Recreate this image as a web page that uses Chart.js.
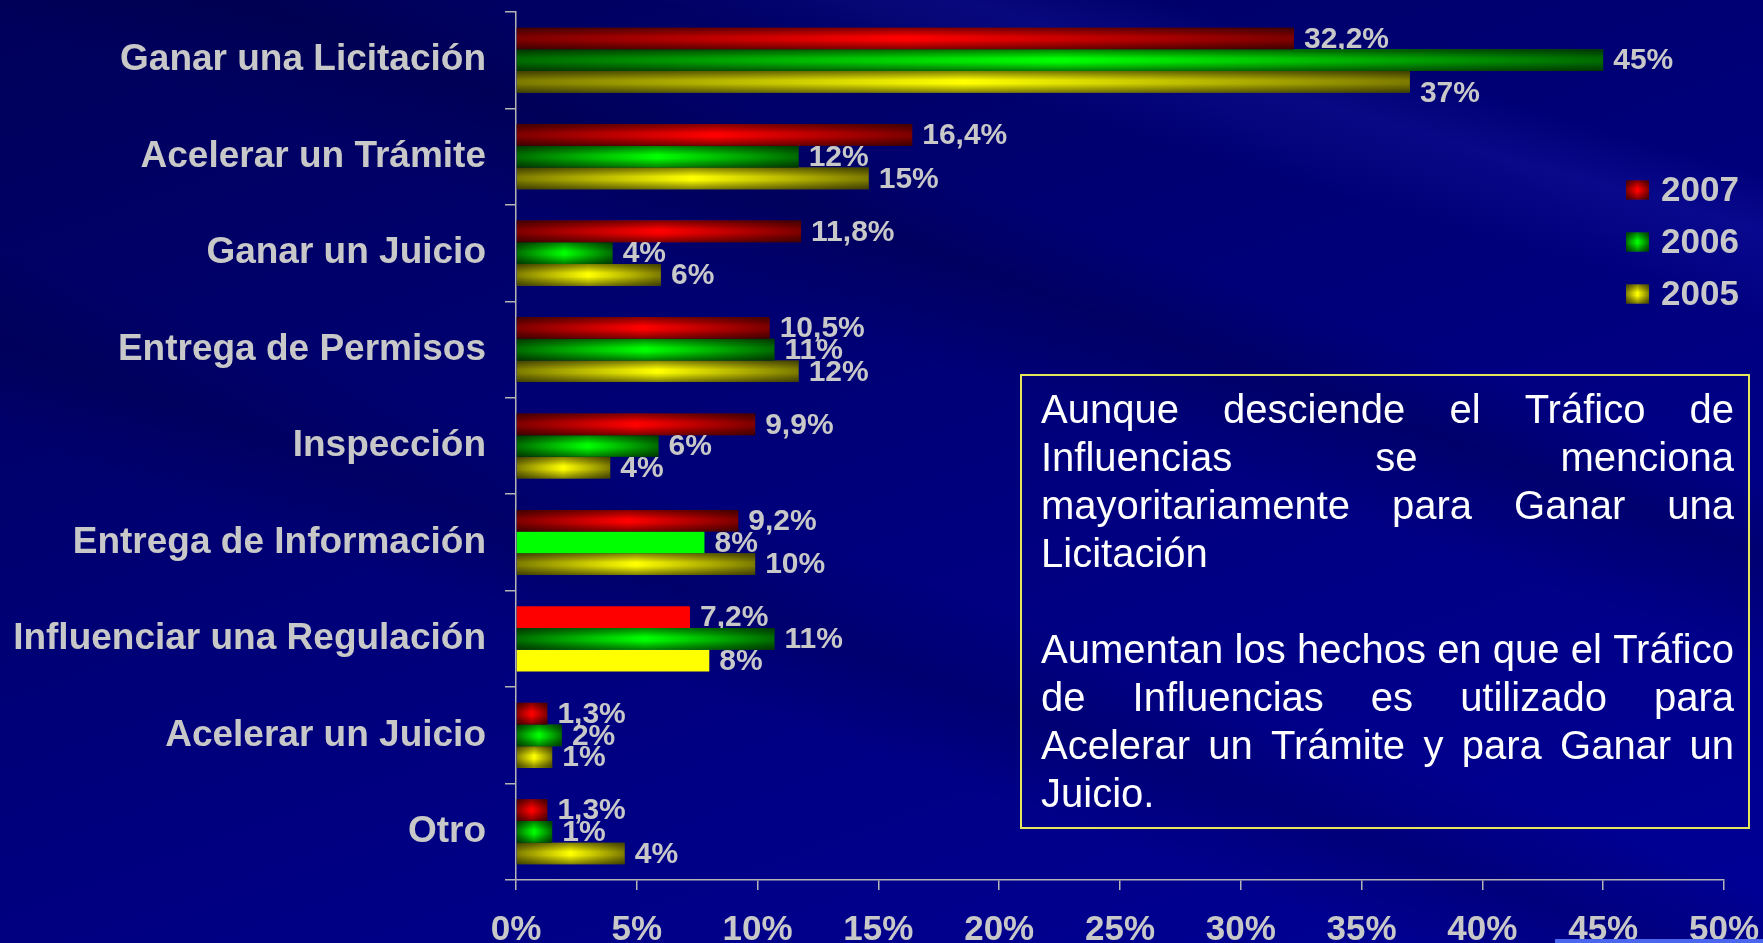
<!DOCTYPE html>
<html lang="es">
<head>
<meta charset="utf-8">
<title>Tráfico de Influencias</title>
<script src="https://cdn.jsdelivr.net/npm/chart.js@4.4.1/dist/chart.umd.min.js"></script>
<style>
  html, body { margin: 0; padding: 0; }
  body {
    width: 1763px; height: 943px; overflow: hidden; position: relative;
    font-family: "Liberation Sans", Arial, sans-serif;
    background:
      linear-gradient(200deg, rgba(0,0,0,0) 0%, rgba(0,0,0,0) 30%, rgba(0,0,50,0.28) 35%, rgba(0,0,0,0) 42%, rgba(0,0,0,0) 56%, rgba(0,0,40,0.2) 62%, rgba(0,0,0,0) 68%),
      linear-gradient(196deg, rgba(0,0,0,0) 0%, rgba(0,0,0,0) 12%, rgba(40,40,200,0.22) 16%, rgba(0,0,0,0) 22%),
      linear-gradient(160deg, #00005a 0%, #00006c 28%, #00007e 55%, #00008c 80%, #000096 100%);
  }
  #contenedor { position: absolute; left: 0; top: 0; width: 1763px; height: 943px; }
  #nota {
    position: absolute; left: 1020px; top: 374px; width: 730px; height: 455px;
    box-sizing: border-box; border: 2px solid #e6e65a;
    padding: 9px 14px 0 19px;
    color: #ffffff; font-size: 40px; line-height: 48px;
  }
  #nota .linea { display: flex; justify-content: space-between; white-space: nowrap; }
  #nota .ultima { white-space: nowrap; }
  #nota .parrafo + .parrafo { margin-top: 48px; }
  #barra { position: absolute; left: 1555px; top: 939px; width: 208px; height: 4px; background: #4a66ee; }
</style>
</head>
<body>
<div id="contenedor"><canvas id="grafico"></canvas></div>
<div id="nota"></div>
<div id="barra"></div>
<script>
// datos del gráfico
var categorias = ['Ganar una Licitación', 'Acelerar un Trámite', 'Ganar un Juicio', 'Entrega de Permisos',
  'Inspección', 'Entrega de Información', 'Influenciar una Regulación', 'Acelerar un Juicio', 'Otro'];
var anios = ['2007', '2006', '2005'];
// largo de las barras
var valores2007 = [32.2, 16.4, 11.8, 10.5, 9.9, 9.2, 7.2, 1.3, 1.3];
var valores2006 = [45, 11.7, 4, 10.7, 5.9, 7.8, 10.7, 1.9, 1.5];
var valores2005 = [37, 14.6, 6, 11.7, 3.9, 9.9, 8, 1.5, 4.5];
// etiquetas tal como aparecen
var textos2007 = ['32,2%', '16,4%', '11,8%', '10,5%', '9,9%', '9,2%', '7,2%', '1,3%', '1,3%'];
var textos2006 = ['45%', '12%', '4%', '11%', '6%', '8%', '11%', '2%', '1%'];
var textos2005 = ['37%', '15%', '6%', '12%', '4%', '10%', '8%', '1%', '4%'];
var ticksX = [0, 5, 10, 15, 20, 25, 30, 35, 40, 45, 50];

var nota = [
  ['Aunque desciende el Tráfico de', 'Influencias se menciona', 'mayoritariamente para Ganar una', 'Licitación'],
  ['Aumentan los hechos en que el Tráfico', 'de Influencias es utilizado para', 'Acelerar un Trámite y para Ganar un', 'Juicio.']
];

var colores = [
  { oscuro: '#7c0000', claro: '#ff0000' },
  { oscuro: '#006a00', claro: '#00ff00' },
  { oscuro: '#7c7a00', claro: '#ffff00' }
];
// barras sin degradado en el original
var planos = [[6], [5], [6]];
// la etiqueta 37% está más abajo en el original
var ajusteY = { '2-0': 11 };
var gris = '#c8c8c8';

Chart.defaults.font.family = '"Liberation Sans", Arial, sans-serif';

function relleno(i) {
  return function(ctx) {
    var c = colores[i];
    var x = ctx.chart.scales.x;
    if (ctx.type !== 'data' || !x || planos[i].indexOf(ctx.dataIndex) >= 0) return c.claro;
    var x0 = x.getPixelForValue(0), x1 = x.getPixelForValue(ctx.raw);
    if (!isFinite(x0) || !isFinite(x1) || x1 - x0 < 1) return c.claro;
    var g = ctx.chart.ctx.createLinearGradient(x0, 0, x1, 0);
    g.addColorStop(0, c.oscuro);
    g.addColorStop(0.5, c.claro);
    g.addColorStop(1, c.oscuro);
    return g;
  };
}

function sombra(ctx, top, h, x0, w) {
  var g = ctx.createLinearGradient(0, top, 0, top + h);
  g.addColorStop(0, 'rgba(0,0,0,0.5)');
  g.addColorStop(0.42, 'rgba(0,0,0,0)');
  g.addColorStop(0.58, 'rgba(0,0,0,0)');
  g.addColorStop(1, 'rgba(0,0,0,0.5)');
  ctx.fillStyle = g;
  ctx.fillRect(x0, top, w, h);
}

var etiquetas = {
  id: 'etiquetas',
  afterDatasetsDraw: function(chart) {
    var ctx = chart.ctx;
    var metas = chart.data.datasets.map(function(ds, i) { return chart.getDatasetMeta(i); });
    ctx.save();
    metas.forEach(function(meta, i) {
      meta.data.forEach(function(bar, j) {
        if (planos[i].indexOf(j) >= 0) return;
        var p = bar.getProps(['x', 'y', 'base', 'height'], true);
        sombra(ctx, p.y - p.height / 2, p.height, p.base, p.x - p.base);
      });
    });
    ctx.font = 'bold 30px "Liberation Sans", Arial, sans-serif';
    ctx.fillStyle = gris;
    ctx.textAlign = 'left';
    ctx.textBaseline = 'middle';
    metas.forEach(function(meta, i) {
      var textos = chart.data.datasets[i].textos;
      meta.data.forEach(function(bar, j) {
        var p = bar.getProps(['x', 'y'], true);
        // las barras de las series siguientes tapan la etiqueta
        ctx.save();
        ctx.beginPath();
        ctx.rect(0, 0, chart.width, chart.height);
        for (var k = i + 1; k < metas.length; k++) {
          var b = metas[k].data[j].getProps(['x', 'y', 'base', 'height'], true);
          ctx.rect(b.base, b.y - b.height / 2, b.x - b.base, b.height);
        }
        ctx.clip('evenodd');
        ctx.fillText(textos[j], p.x + 10, p.y + 1 + (ajusteY[i + '-' + j] || 0));
        ctx.restore();
      });
    });
    ctx.restore();
  }
};

var leyenda = {
  id: 'leyenda',
  afterDraw: function(chart) {
    var ctx = chart.ctx;
    ctx.save();
    chart.data.datasets.forEach(function(ds, i) {
      var c = colores[i];
      var x = 1626, w = 23, h = 19, cy = 190 + i * 52;
      var g = ctx.createLinearGradient(x, 0, x + w, 0);
      g.addColorStop(0, c.oscuro);
      g.addColorStop(0.5, c.claro);
      g.addColorStop(1, c.oscuro);
      ctx.fillStyle = g;
      ctx.fillRect(x, cy - h / 2, w, h);
      sombra(ctx, cy - h / 2, h, x, w);
      ctx.fillStyle = gris;
      ctx.font = 'bold 35px "Liberation Sans", Arial, sans-serif';
      ctx.textAlign = 'left';
      ctx.textBaseline = 'middle';
      ctx.fillText(ds.label, 1661, cy + 1);
    });
    ctx.restore();
  }
};

var series = [valores2007, valores2006, valores2005];
var textos = [textos2007, textos2006, textos2005];

var grafico = new Chart(document.getElementById('grafico').getContext('2d'), {
  type: 'bar',
  data: {
    labels: categorias,
    datasets: series.map(function(valores, i) {
      return {
        label: anios[i],
        data: valores,
        textos: textos[i],
        backgroundColor: relleno(i),
        borderWidth: 0,
        categoryPercentage: 0.675,
        barPercentage: 1
      };
    })
  },
  options: {
    indexAxis: 'y',
    responsive: true,
    maintainAspectRatio: false,
    animation: false,
    layout: { padding: { left: 0, right: 39, top: 12, bottom: 0 } },
    plugins: {
      legend: { display: false },
      tooltip: { enabled: false }
    },
    scales: {
      x: {
        type: 'linear',
        min: 0,
        max: 50,
        afterBuildTicks: function(scale) {
          scale.ticks = ticksX.map(function(v) { return { value: v }; });
        },
        afterFit: function(scale) {
          scale.height = 63;
          scale.paddingLeft = 0;
          scale.paddingRight = 0;
        },
        grid: { drawOnChartArea: false, drawTicks: true, tickLength: 10, color: '#b4b4b4', lineWidth: 1.5 },
        border: { display: true, color: '#b4b4b4', width: 1.5 },
        ticks: {
          padding: 19,
          color: gris,
          font: { size: 35, weight: 'bold' },
          maxRotation: 0,
          callback: function(v) { return v + '%'; }
        }
      },
      y: {
        type: 'category',
        offset: true,
        afterFit: function(scale) {
          scale.width = 516;
          scale.paddingTop = 0;
          scale.paddingBottom = 0;
        },
        grid: { offset: true, drawOnChartArea: false, drawTicks: true, tickLength: 11, color: '#b4b4b4', lineWidth: 1.5 },
        border: { display: true, color: '#b4b4b4', width: 1.5 },
        ticks: {
          padding: 19,
          color: gris,
          font: { size: 37, weight: 'bold' }
        }
      }
    }
  },
  plugins: [etiquetas, leyenda]
});

// cuadro de texto
var cuadro = document.getElementById('nota');
nota.forEach(function(lineas) {
  var p = document.createElement('div');
  p.className = 'parrafo';
  lineas.forEach(function(texto, k) {
    var d = document.createElement('div');
    if (k === lineas.length - 1) {
      d.className = 'ultima';
      d.textContent = texto;
    } else {
      d.className = 'linea';
      texto.split(' ').forEach(function(palabra) {
        var s = document.createElement('span');
        s.textContent = palabra;
        d.appendChild(s);
      });
    }
    p.appendChild(d);
  });
  cuadro.appendChild(p);
});
</script>
</body>
</html>
